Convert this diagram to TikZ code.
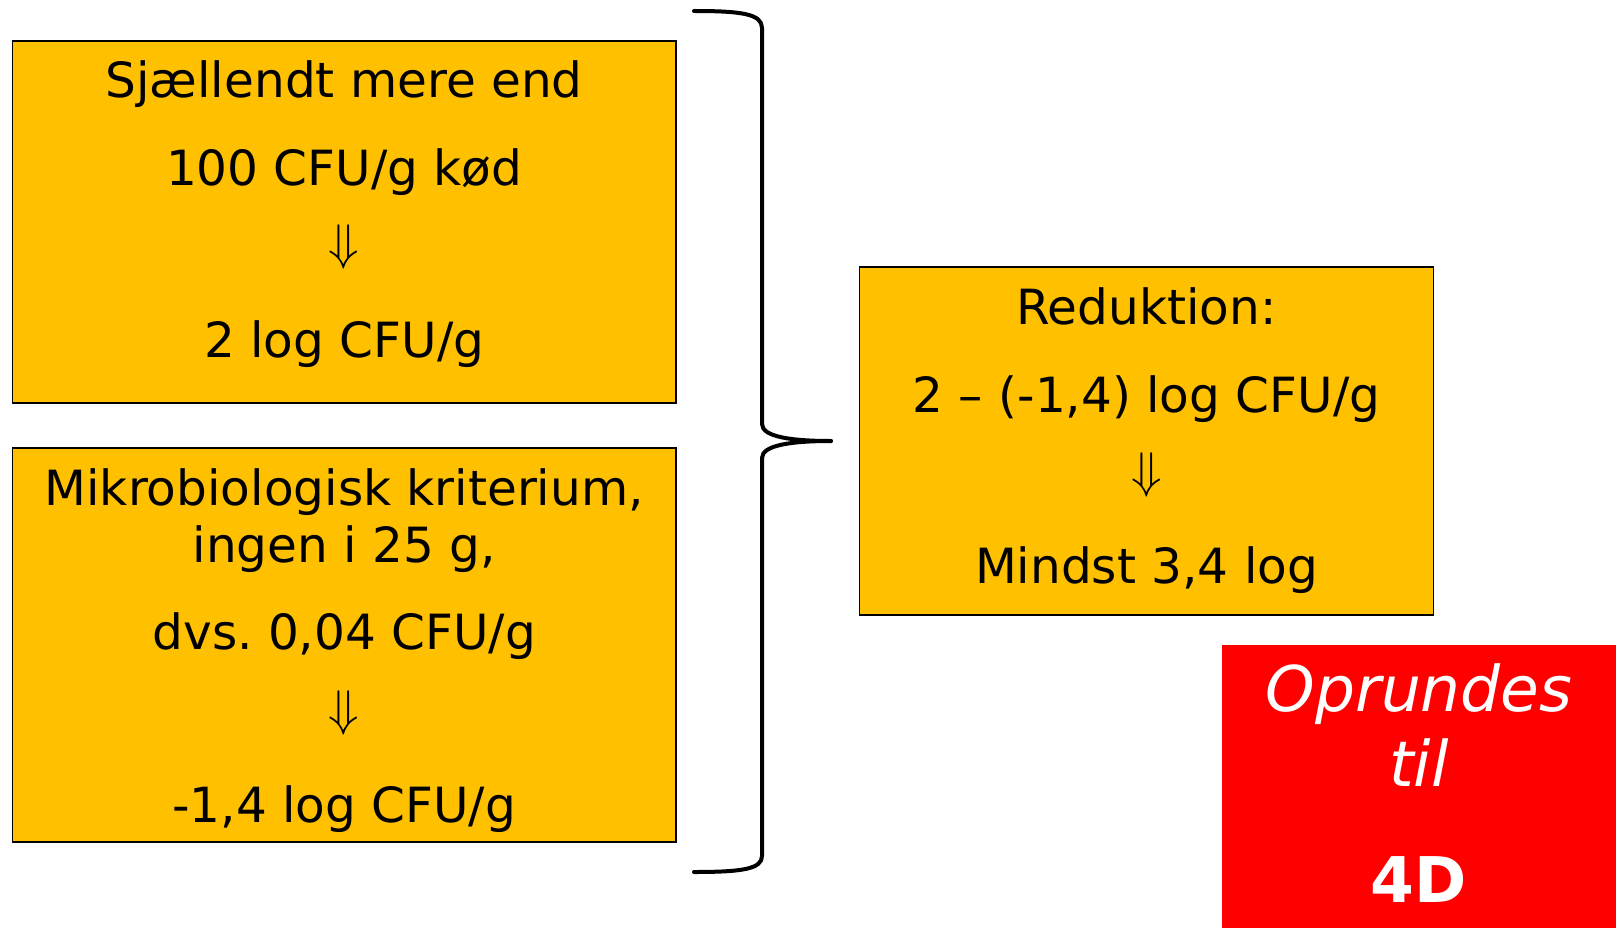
\documentclass[tikz,border=0pt]{standalone}
\usepackage{fontspec}
\setmainfont{DejaVu Sans}
\frenchspacing
\definecolor{amber}{HTML}{FFC000}
\definecolor{alarm}{HTML}{FF0000}
\begin{document}
\begin{tikzpicture}[x=1pt,y=-1pt,
  panel/.style={draw=black,line width=1.5pt,fill=amber,inner sep=0pt},
  line/.style={anchor=base,font=\fontsize{48.5}{56}\selectfont},
  darrow/.style={inner sep=0pt},
  brace/.style={draw=black,line width=4pt,line cap=round,line join=round},
  redline/.style={anchor=base,text=white}]
\useasboundingbox (0,0) rectangle (1616,928);
% boxes
\node[panel,minimum width=663.6pt,minimum height=362pt] (top) at (344.2,222) {};
\node[panel,minimum width=663.6pt,minimum height=394pt] (bot) at (344.2,645) {};
\node[panel,minimum width=574pt,minimum height=348pt] (res) at (1146.5,441) {};
\fill[alarm] (1222,645) rectangle (1616,928);
\node[inner sep=0pt,minimum width=394pt,minimum height=283pt] (red) at (1419,786.5) {};
% text in the first box
\node[line] (t1) at (344.2,98) {Sjællendt mere end};
\node[line] (t2) at (344.2,185.5) {100 CFU/g kød};
\node[darrow] (t3) at (344.2,247) {\scalebox{5}{$\Downarrow$}};
\node[line] (t4) at (344.2,357.6) {2 log CFU/g};
% text in the second box
\node[line] (b1) at (344.2,505) {Mikrobiologisk kriterium,};
\node[line] (b2) at (344.2,562.7) {ingen i 25 g,};
\node[line] (b3) at (344.2,649) {dvs. 0,04 CFU/g};
\node[darrow] (b4) at (344.2,713) {\scalebox{5}{$\Downarrow$}};
\node[line] (b5) at (344.2,822) {-1,4 log CFU/g};
% text in the result box
\node[line] (r1) at (1146.5,324.6) {Reduktion:};
\node[line] (r2) at (1146.5,412) {2 – (-1,4) log CFU/g};
\node[darrow] (r3) at (1146.5,475) {\scalebox{5}{$\Downarrow$}};
\node[line] (r4) at (1146.5,583) {Mindst 3,4 log};
% red note
\node[redline,font=\fontsize{63}{70}\selectfont\itshape] (o1) at (1419,711) {Oprundes};
\node[redline,font=\fontsize{63}{70}\selectfont\itshape] (o2) at (1419,786) {til};
\node[redline,font=\fontsize{63}{70}\selectfont\bfseries] (o3) at (1419,902) {4D};
% curly brace joining the two boxes
\coordinate (btop) at (694,11);
\coordinate (bmid) at (831,441);
\coordinate (bbot) at (694,872);
\path[brace] (btop) .. controls (742,11) and (762,14) .. (762,28) -- (762,424)
  .. controls (762,437) and (792,441) .. (bmid);
\path[brace] (bmid) .. controls (792,441) and (762,445) .. (762,458) -- (762,856)
  .. controls (762,869) and (742,872) .. (bbot);
\end{tikzpicture}
\end{document}
